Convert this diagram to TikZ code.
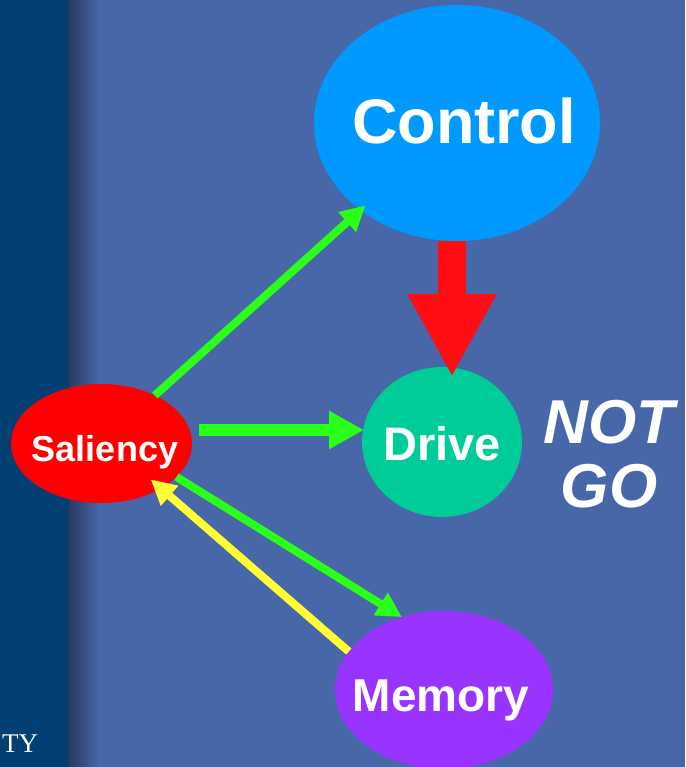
\documentclass[tikz,border=0pt]{standalone}
\usepackage{fontspec}
\setmainfont{Liberation Serif}
\setsansfont{Liberation Sans}
\usepackage{tikz}
\usetikzlibrary{arrows.meta,shapes.geometric,calc}
\definecolor{slidebg}{RGB}{72,103,168}
\definecolor{navy}{RGB}{2,63,115}
\definecolor{edgeshade}{RGB}{42,58,98}
\definecolor{ctrlblue}{RGB}{0,153,255}
\definecolor{drvgreen}{RGB}{0,204,153}
\definecolor{salred}{RGB}{255,0,0}
\definecolor{mempurple}{RGB}{153,51,255}
\definecolor{linkgreen}{RGB}{41,255,25}
\definecolor{linkyellow}{RGB}{255,255,51}
\definecolor{blockred}{RGB}{255,13,18}

\begin{document}
\begin{tikzpicture}[x=1pt,y=-1pt,
  blob/.style={ellipse,inner sep=0pt,outer sep=0pt},
  word/.style={text=white,inner sep=0pt,text depth=0pt,font=\sffamily\bfseries},
  link/.style={line width=8pt,-{Triangle[length=25pt,width=25pt]}}]
  % slide background
  \clip (0,0) rectangle (685,767);
  \fill[slidebg] (0,0) rectangle (685,767);
  \fill[navy] (0,0) rectangle (69,767);
  \shade[left color=edgeshade,right color=slidebg] (69,0) rectangle (100,767);
  \node[text=white,inner sep=0pt,anchor=base west,font=\rmfamily\fontsize{27}{27}\selectfont] (tylbl) at (2,752) {TY};
  % the four units
  \node[blob,fill=ctrlblue,minimum width=286pt,minimum height=236pt,
    label={[word,font=\sffamily\bfseries\fontsize{63}{63}\selectfont,xshift=7pt,yshift=2.5pt]center:Control}] (ctrl) at (457,123) {};
  \node[blob,fill=drvgreen,minimum width=160pt,minimum height=150pt,
    label={[word,font=\sffamily\bfseries\fontsize{47}{47}\selectfont,yshift=-1pt]center:Drive}] (drv) at (442,442) {};
  \node[blob,fill=salred,minimum width=181pt,minimum height=119pt,
    label={[word,font=\sffamily\bfseries\fontsize{36}{36}\selectfont,xshift=3.5pt,yshift=-4.5pt]center:Saliency}] (sal) at (101.5,443.5) {};
  \node[blob,fill=mempurple,minimum width=218pt,minimum height=158pt,
    label={[word,font=\sffamily\bfseries\fontsize{46}{46}\selectfont,xshift=-3pt,yshift=-5.5pt]center:Memory}] (mem) at (444,690) {};
  \node[word,anchor=base,font=\sffamily\bfseries\itshape\fontsize{62}{62}\selectfont] (notlbl) at (609,443) {NOT};
  \node[word,anchor=base,font=\sffamily\bfseries\itshape\fontsize{62}{62}\selectfont] (golbl) at (609,507) {GO};
  % connectors
  \draw[blockred,line width=28pt,-{Triangle[length=83pt,width=83pt]}]
       ([xshift=-5pt]ctrl.south) -- ([xshift=10pt,yshift=-10pt]drv.north);
  \draw[link,linkgreen,shorten >=-7pt] (sal) -- (ctrl);
  \draw[link,linkgreen,line width=12pt,-{Triangle[length=35pt,width=36pt]}]
       ([xshift=7pt,yshift=13.5pt]sal.east) -- ([xshift=2pt,yshift=12pt]drv.west);
  \draw[link,linkgreen] (sal.-24) -- (mem.120);
  \draw[link,linkyellow,shorten >=-13.6pt] (mem.158) -- (sal.-37);
\end{tikzpicture}
\end{document}
